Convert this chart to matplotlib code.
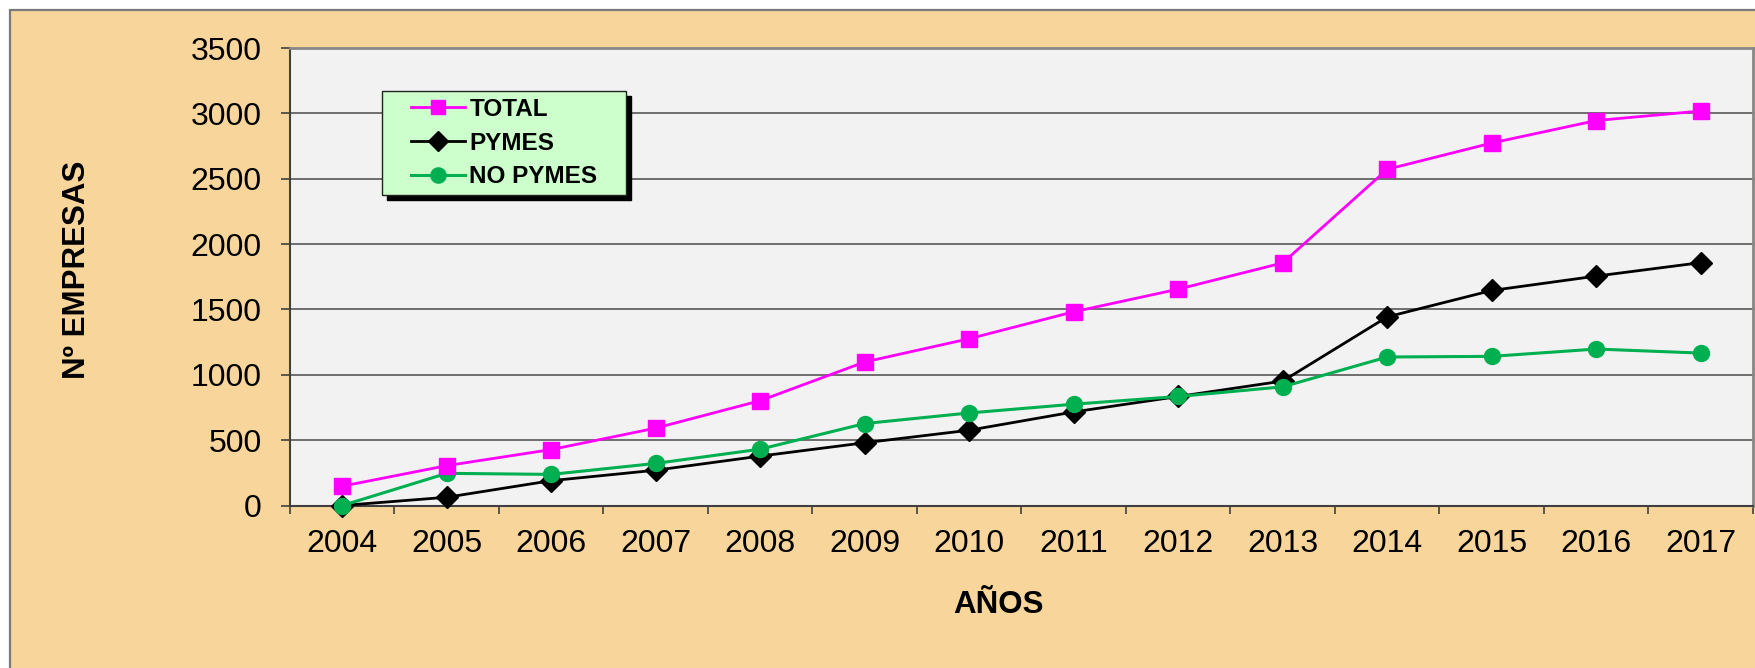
import matplotlib
matplotlib.use("Agg")
import matplotlib.pyplot as plt
from matplotlib.patches import Rectangle
import numpy as np

plt.rcParams['font.family'] = ['Liberation Sans', 'DejaVu Sans']

years = ['2004', '2005', '2006', '2007', '2008', '2009', '2010',
         '2011', '2012', '2013', '2014', '2015', '2016', '2017']
total = [148, 305, 428, 592, 802, 1098, 1276, 1482, 1655, 1856, 2572, 2773, 2945, 3018]
pymes = [0, 63, 190, 270, 378, 480, 576, 716, 834, 952, 1443, 1645, 1755, 1858]
no_pymes = [0, 246, 238, 322, 431, 627, 708, 775, 834, 908, 1136, 1141, 1197, 1166]
y_ticks = [0, 500, 1000, 1500, 2000, 2500, 3000, 3500]

W, H = 1756, 668
fig = plt.figure(figsize=(W / 100, H / 100), dpi=100, facecolor='white')

def fx(px):
    return px / W

def fy(py):
    return 1 - py / H

# outer chart area
fig.patches.append(Rectangle((fx(10), -0.1), 1.2, fy(10) + 0.1, transform=fig.transFigure,
                             facecolor='#F7D59B', edgecolor='#7a7a7a', linewidth=1.6, zorder=-5))

ax = fig.add_axes([fx(290), fy(505.5), fx(1753) - fx(290), fy(48) - fy(505.5)])
ax.set_zorder(1)
ax.set_facecolor('#F2F2F2')

x = np.arange(len(years))
l_p, = ax.plot(x, pymes, color='black', lw=2.0, marker='D', markersize=11, zorder=3, label='PYMES', clip_on=False)
l_n, = ax.plot(x, no_pymes, color='#00B050', lw=2.2, marker='o', markersize=11.5, zorder=4, label='NO PYMES', clip_on=False)
l_t, = ax.plot(x, total, color='#FF00FF', lw=2.0, marker='s', markersize=11, zorder=5, label='TOTAL', clip_on=False)

ax.set_xlim(-0.5, len(years) - 0.5)
ax.set_ylim(0, 3500)
ax.set_yticks(y_ticks)
ax.set_yticklabels([str(v) for v in y_ticks])
ax.yaxis.grid(True, color='#4a4a4a', linewidth=1.1)
ax.set_axisbelow(True)

ax.set_xticks(x)
ax.set_xticklabels(years)
ax.set_xticks(np.arange(-0.5, len(years)), minor=True)
ax.tick_params(axis='x', which='major', length=0, pad=17, labelsize=23)
ax.tick_params(axis='x', which='minor', length=6, width=1.2, color='#404040')
ax.tick_params(axis='y', length=6.5, width=1.2, color='#404040', pad=14, labelsize=23)

for s in ['left', 'bottom']:
    ax.spines[s].set_color('#404040')
    ax.spines[s].set_linewidth(1.5)
for s in ['top', 'right']:
    ax.spines[s].set_color('#888888')
    ax.spines[s].set_linewidth(2.0)

fig.text(fx(998), fy(605), 'AÑOS', ha='center', va='center', fontsize=22.5, fontweight='bold')
fig.text(fx(77), fy(270), 'Nº EMPRESAS', ha='center', va='center', rotation=90,
         fontsize=22.5, fontweight='bold')

# legend box with shadow (drawn above the axes)
fig.patches.append(Rectangle((fx(387), fy(200)), fx(626) - fx(382), fy(91) - fy(195),
                             transform=fig.transFigure, facecolor='black', edgecolor='black', zorder=6))
fig.patches.append(Rectangle((fx(382), fy(195)), fx(626) - fx(382), fy(91) - fy(195),
                             transform=fig.transFigure, facecolor='#CCFFCC', edgecolor='#222222',
                             linewidth=1.0, zorder=7))
leg = fig.legend(handles=[l_t, l_p, l_n], loc='center left',
                 bbox_to_anchor=(fx(399), fy(143)), frameon=False, borderpad=0,
                 handlelength=2.2, handletextpad=0.2, labelspacing=0.45,
                 prop={'weight': 'bold', 'size': 17.5}, markerscale=0.95)
leg.set_zorder(8)

fig.savefig('out.png', dpi=100, facecolor='white')
